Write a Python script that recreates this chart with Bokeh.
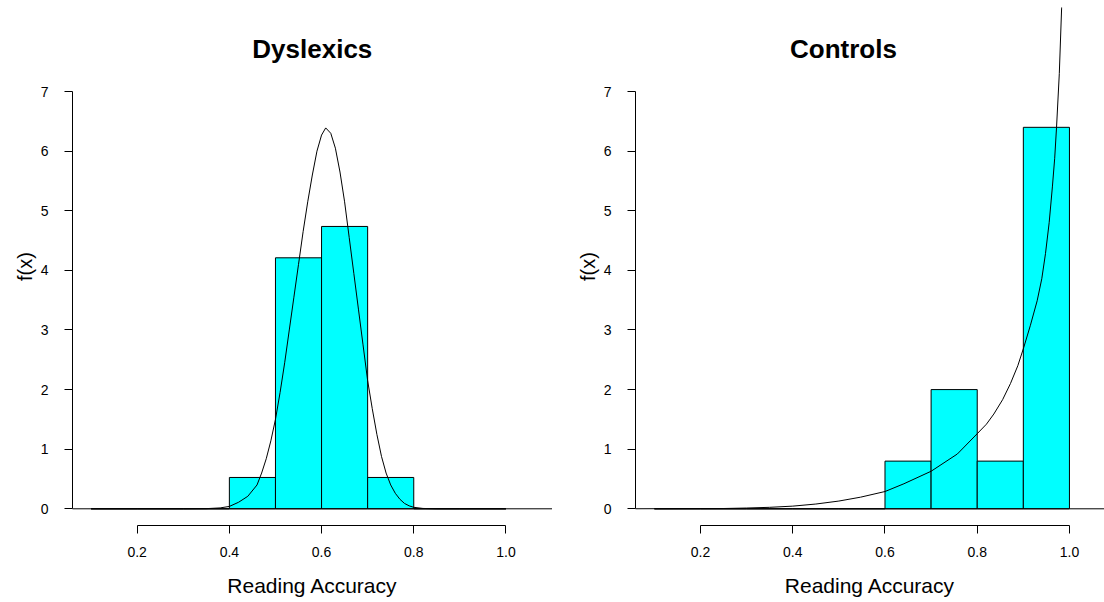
from bokeh.plotting import figure
from bokeh.models import Range1d, Label, FixedTicker
from bokeh.layouts import row
from bokeh.embed import file_html
from bokeh.resources import INLINE

# ---- data ----
bin_left = [0.1, 0.2, 0.3, 0.4, 0.5, 0.6, 0.7, 0.8, 0.9]
bin_right = [0.2, 0.3, 0.4, 0.5, 0.6, 0.7, 0.8, 0.9, 1.0]
dys_density = [0, 0, 0, 0.526, 4.211, 4.737, 0.526, 0, 0]
ctl_density = [0, 0, 0, 0, 0, 0.8, 2.0, 0.8, 6.4]

dys_curve_x = [0.01, 0.30, 0.35, 0.38, 0.40, 0.42, 0.44, 0.46, 0.47, 0.48, 0.49, 0.50,
               0.51, 0.52, 0.53, 0.54, 0.55, 0.56, 0.57, 0.58, 0.59, 0.60, 0.609,
               0.62, 0.63, 0.64, 0.65, 0.66, 0.67, 0.68, 0.69, 0.70, 0.71, 0.72,
               0.73, 0.74, 0.75, 0.76, 0.77, 0.78, 0.79, 0.80, 0.82, 0.85, 1.10]
dys_curve_y = [0, 0, 0.003, 0.015, 0.04, 0.11, 0.21, 0.40, 0.60, 0.84, 1.14, 1.50,
               1.95, 2.45, 3.0, 3.55, 4.1, 4.65, 5.15, 5.6, 6.0, 6.27, 6.39,
               6.3, 6.05, 5.65, 5.15, 4.55, 3.95, 3.35, 2.75, 2.15, 1.68, 1.25,
               0.88, 0.6, 0.4, 0.26, 0.16, 0.09, 0.05, 0.025, 0.006, 0, 0]

ctl_curve_x = [0.01, 0.25, 0.30, 0.35, 0.40, 0.45, 0.50, 0.547, 0.60, 0.641, 0.70,
               0.757, 0.80, 0.82, 0.836, 0.855, 0.872, 0.888, 0.901, 0.915, 0.930,
               0.940, 0.948, 0.956, 0.963, 0.968, 0.972, 0.978, 0.983, 0.99, 0.996,
               1.0, 1.0, 1.10]
ctl_curve_y = [0, 0.005, 0.013, 0.025, 0.045, 0.08, 0.13, 0.195, 0.29, 0.42, 0.63,
               0.92, 1.26, 1.42, 1.59, 1.83, 2.10, 2.40, 2.71, 3.07, 3.49,
               3.86, 4.28, 4.80, 5.40, 5.88, 6.40, 7.30, 8.40, 11, 20,
               float("nan"), 0, 0]

x_ticks = [0.2, 0.4, 0.6, 0.8, 1.0]
x_tick_labels = ["0.2", "0.4", "0.6", "0.8", "1.0"]
y_ticks = [0, 1, 2, 3, 4, 5, 6, 7]

titles = ["Dyslexics", "Controls"]
x_label = "Reading Accuracy"
y_label = "f(x)"

FONT = "Liberation Sans"


def make_panel(title, density, cx, cy, x_range, min_left, width, title_x, ylab_standoff):
    p = figure(width=width, height=600, output_backend="svg", toolbar_location=None,
               x_range=Range1d(*x_range), y_range=Range1d(-0.28, 8.41),
               min_border_left=min_left, min_border_right=0,
               min_border_top=7, min_border_bottom=75)
    p.outline_line_color = None
    p.grid.visible = False
    p.background_fill_color = "white"
    p.border_fill_color = "white"

    p.quad(left=bin_left, right=bin_right, bottom=0, top=density,
           fill_color="#00FFFF", line_color="black", line_width=1)
    p.segment(x0=bin_left, y0=[0] * len(bin_left), x1=bin_right, y1=[0] * len(bin_right),
              line_color="black", line_width=1)
    p.line(cx, cy, line_color="black", line_width=1)

    for ax in (p.xaxis[0], p.yaxis[0]):
        ax.axis_line_color = "black"
        ax.axis_line_width = 1
        ax.major_tick_line_color = "black"
        ax.major_tick_out = 8
        ax.major_tick_in = 0
        ax.minor_tick_line_color = None
        ax.major_label_text_font = FONT
        ax.major_label_text_font_size = "14px"
        ax.major_label_text_color = "black"
        ax.axis_label_text_font = FONT
        ax.axis_label_text_font_size = "21px"
        ax.axis_label_text_font_style = "normal"
        ax.axis_label_text_color = "black"

    xa = p.xaxis[0]
    xa.ticker = FixedTicker(ticks=x_ticks)
    xa.major_label_overrides = {t: l for t, l in zip(x_ticks, x_tick_labels)}
    xa.bounds = (x_ticks[0], x_ticks[-1])
    xa.axis_label = x_label
    xa.major_label_standoff = 13
    xa.axis_label_standoff = 14

    ya = p.yaxis[0]
    ya.ticker = FixedTicker(ticks=y_ticks)
    ya.bounds = (y_ticks[0], y_ticks[-1])
    ya.axis_label = y_label
    ya.axis_label_text_font_size = "20px"
    ya.major_label_standoff = 16
    ya.axis_label_standoff = ylab_standoff
    ya.major_label_orientation = "horizontal"

    p.add_layout(Label(x=title_x, y=7.72, text=title, text_font=FONT,
                       text_font_size="26px", text_font_style="bold",
                       text_align="center", text_baseline="middle", text_color="black"))
    return p


p1 = make_panel(titles[0], dys_density, dys_curve_x, dys_curve_y,
                (0.0597, 1.101), 72, 552, 0.58, 2)
p2 = make_panel(titles[1], ctl_density, ctl_curve_x, ctl_curve_y,
                (0.059, 1.076), 83, 552, 0.51, 2)

layout = row(p1, p2)
open("out.html", "w").write(file_html(layout, INLINE))
